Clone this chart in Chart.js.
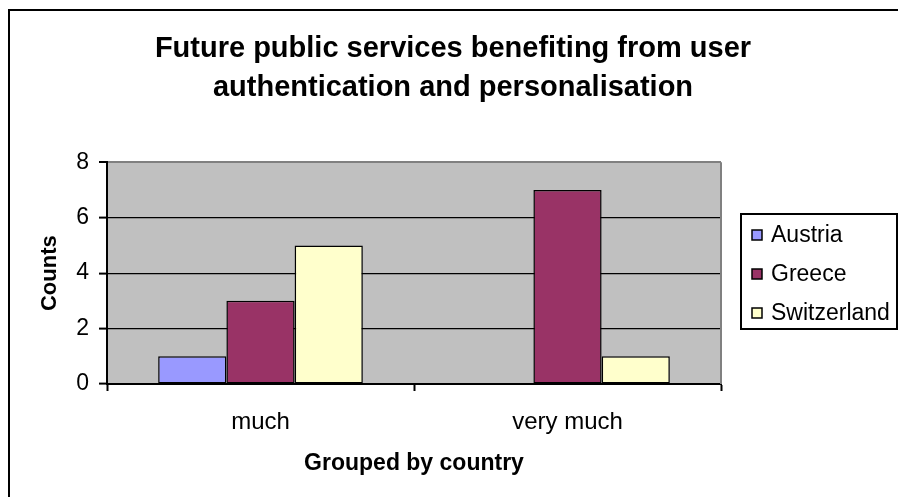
<!DOCTYPE html>
<html>
<head>
<meta charset="utf-8">
<script src="https://cdn.jsdelivr.net/npm/chart.js@4/dist/chart.umd.min.js"></script>
<style>
  html, body { margin: 0; padding: 0; background: #fff; }
  #wrap { width: 898px; height: 497px; }
</style>
</head>
<body>
<div id="wrap"><canvas id="c" width="898" height="497"></canvas></div>
<script>
// Survey answers, counted per country
const categories = ['much', 'very much'];
const countries = ['Austria', 'Greece', 'Switzerland'];
const austria = [1, 0];
const greece = [3, 7];
const switzerland = [5, 1];
const yTicks = [0, 2, 4, 6, 8];
const titleLines = ['Future public services benefiting from user', 'authentication and personalisation'];
const yTitle = 'Counts';
const xTitle = 'Grouped by country';

const colors = ['#9999FF', '#993366', '#FFFFCC'];
const FONT = 'Arial, "Liberation Sans", sans-serif';

// Grey plot background plus light right edge
const plotBackground = {
  id: 'plotBackground',
  beforeDraw(chart) {
    const { ctx, chartArea: a } = chart;
    ctx.save();
    ctx.fillStyle = '#C0C0C0';
    ctx.fillRect(a.left, a.top, a.right - a.left, a.bottom - a.top);
    ctx.restore();
  },
  afterDatasetsDraw(chart) {
    const { ctx, chartArea: a } = chart;
    ctx.save();
    ctx.strokeStyle = '#808080';
    ctx.lineWidth = 2;
    ctx.beginPath();
    ctx.moveTo(a.right, a.top);
    ctx.lineTo(a.right, a.bottom);
    ctx.stroke();
    ctx.restore();
  }
};

// Thin frame around the whole chart
const outerFrame = {
  id: 'outerFrame',
  afterDraw(chart) {
    const { ctx } = chart;
    ctx.save();
    ctx.strokeStyle = '#000';
    ctx.lineWidth = 2;
    ctx.beginPath();
    ctx.moveTo(9, chart.height);
    ctx.lineTo(9, 10);
    ctx.lineTo(chart.width, 10);
    ctx.stroke();
    ctx.restore();
  }
};

// Boxed legend on the right
const boxedLegend = {
  id: 'boxedLegend',
  afterDraw(chart) {
    const { ctx } = chart;
    const box = { x: 741, y: 214, w: 156, h: 115 };
    ctx.save();
    ctx.fillStyle = '#fff';
    ctx.fillRect(box.x, box.y, box.w, box.h);
    ctx.strokeStyle = '#000';
    ctx.lineWidth = 2;
    ctx.strokeRect(box.x, box.y, box.w, box.h);
    ctx.font = '23px ' + FONT;
    ctx.textBaseline = 'middle';
    ctx.textAlign = 'left';
    const rows = [235, 274, 313];
    chart.data.datasets.forEach((ds, i) => {
      const cy = rows[i];
      ctx.fillStyle = ds.backgroundColor;
      ctx.fillRect(752, cy - 5, 10, 10);
      ctx.lineWidth = 1.5;
      ctx.strokeStyle = '#000';
      ctx.strokeRect(752, cy - 5, 10, 10);
      ctx.fillStyle = '#000';
      ctx.fillText(ds.label, 771, cy + 1);
    });
    ctx.restore();
  }
};

const datasets = [austria, greece, switzerland].map((vals, i) => ({
  label: countries[i],
  data: vals,
  backgroundColor: colors[i],
  borderColor: '#000',
  borderWidth: 1.5,
  borderSkipped: false,
  categoryPercentage: 3 / 4.5,
  barPercentage: 1.0
}));

new Chart(document.getElementById('c'), {
  type: 'bar',
  data: { labels: categories, datasets },
  plugins: [plotBackground, outerFrame, boxedLegend],
  options: {
    responsive: false,
    animation: false,
    layout: { padding: { left: 8, right: 0, top: 0, bottom: 0 } },
    plugins: {
      legend: { display: false },
      tooltip: { enabled: false },
      title: {
        display: true,
        text: titleLines,
        color: '#000',
        font: { family: FONT, size: 29, weight: 'bold', lineHeight: 1.35 },
        padding: { top: 29, bottom: 55 }
      }
    },
    scales: {
      x: {
        type: 'category',
        position: 'bottom',
        afterFit(s) { s.height = 113; },
        grid: {
          offset: true,
          drawOnChartArea: false,
          drawTicks: true,
          tickLength: 7,
          tickColor: '#000',
          tickWidth: 2
        },
        border: { display: true, color: '#000', width: 2 },
        ticks: { color: '#000', font: { family: FONT, size: 24 }, padding: 17 },
        title: {
          display: true,
          text: xTitle,
          color: '#000',
          font: { family: FONT, size: 23, weight: 'bold' },
          padding: { top: 0, bottom: 20 }
        }
      },
      y: {
        type: 'linear',
        position: 'left',
        min: 0,
        max: 8,
        afterFit(s) { s.width = 99; },
        afterBuildTicks(s) { s.ticks = yTicks.map(v => ({ value: v })); },
        grid: {
          color: (c) => (c.tick && c.tick.value === 8 ? '#808080' : '#000'),
          lineWidth: (c) => (c.tick && c.tick.value === 8 ? 2 : 1.2),
          drawTicks: true,
          tickLength: 8,
          tickColor: '#000',
          tickWidth: 2
        },
        border: { display: true, color: '#000', width: 2 },
        ticks: { color: '#000', font: { family: FONT, size: 23 }, padding: 10 },
        title: {
          display: true,
          text: yTitle,
          color: '#000',
          font: { family: FONT, size: 22, weight: 'bold' },
          padding: { top: 29, bottom: 0 }
        }
      },
      spacer: {
        type: 'linear',
        position: 'right',
        display: true,
        afterFit(s) { s.width = 177; },
        grid: { display: false, drawTicks: false },
        border: { display: false },
        ticks: { display: false }
      }
    }
  }
});
</script>
</body>
</html>
